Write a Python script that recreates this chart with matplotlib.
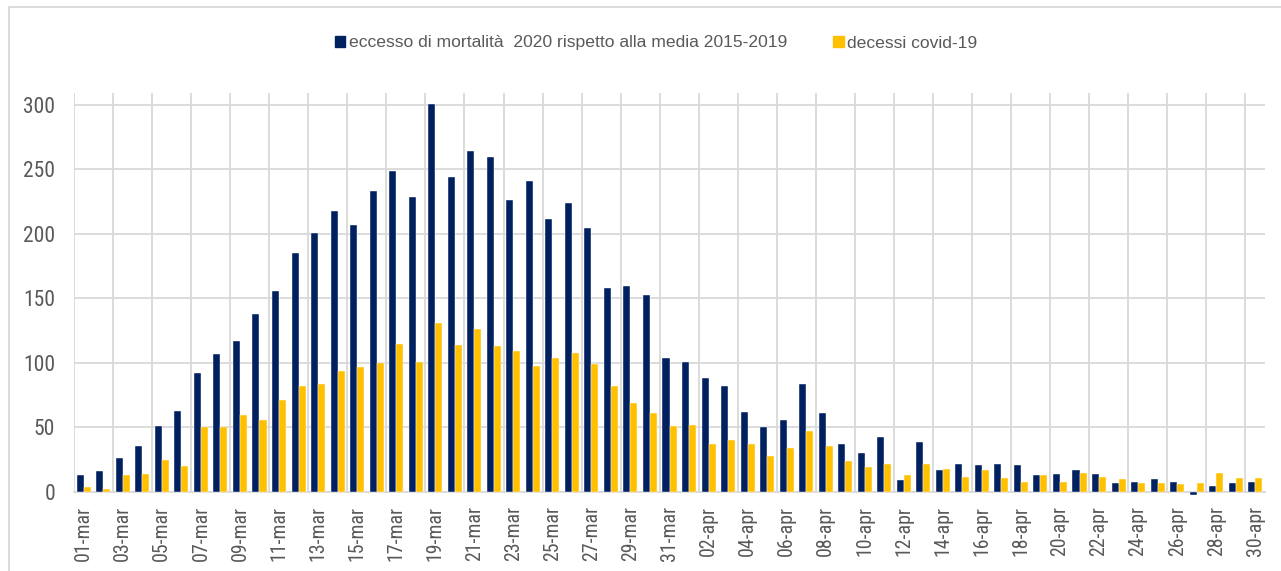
import numpy as np
import matplotlib
matplotlib.use("Agg")
import matplotlib.pyplot as plt
from matplotlib.patches import Patch, Rectangle

plt.rcParams['font.family'] = ['Liberation Sans', 'DejaVu Sans']
tick_font = ['Roboto Condensed', 'Liberation Sans', 'DejaVu Sans']

# Daily data, 1 March - 30 April 2020
days_mar = [f"{d:02d}-mar" for d in range(1, 32)]
days_apr = [f"{d:02d}-apr" for d in range(1, 31)]
days = days_mar + days_apr

excess = [13, 16, 26, 36, 51, 63, 92, 107, 117, 138,
          156, 185, 201, 218, 207, 233, 249, 229, 301, 244,
          264, 260, 226, 241, 212, 224, 205, 158, 160, 153,
          104, 101, 88, 82, 62, 50, 56, 84, 61, 37,
          30, 43, 9, 39, 17, 22, 21, 22, 21, 13,
          14, 17, 14, 7, 8, 10, 8, -2, 5, 7, 8]
covid = [4, 2, 13, 14, 25, 20, 50, 50, 60, 56,
         71, 82, 84, 94, 97, 100, 115, 101, 131, 114,
         126, 113, 109, 98, 104, 108, 99, 82, 69, 61,
         51, 52, 37, 40, 37, 28, 34, 47, 36, 24,
         19, 22, 13, 22, 18, 12, 17, 11, 8, 13,
         8, 15, 12, 10, 7, 7, 6, 7, 15, 11, 11]

label_excess = "eccesso di mortalità  2020 rispetto alla media 2015-2019"
label_covid = "decessi covid-19"

navy = "#002060"
gold = "#FFC000"
grey_txt = "#595959"
grey_grid = "#D9D9D9"

fig = plt.figure(figsize=(12.81, 5.71), dpi=100)
ax = fig.add_axes([74 / 1281, 1 - 492 / 571, (1265 - 74) / 1281, (492 - 93) / 571])

x = np.arange(len(days))
w = 0.36
ax.bar(x - w / 2, excess, width=w, color=navy, edgecolor="white", linewidth=0.3, clip_on=False, zorder=3)
ax.bar(x + w / 2, covid, width=w, color=gold, edgecolor="white", linewidth=0.3, clip_on=False, zorder=3)

ax.set_xlim(-0.5, len(days) - 0.5)
ax.set_ylim(0, 309.3)

# labels every second day, gridlines on category boundaries every two days
ax.set_xticks(x[::2])
ax.set_xticklabels(days[::2], rotation=90, fontsize=14.3, color=grey_txt, family=tick_font)
ax.set_xticks(np.arange(-0.5, len(days), 2), minor=True)
ax.set_yticks(np.arange(0, 301, 50))
for lbl in ax.get_yticklabels():
    lbl.set_family(tick_font)
ax.tick_params(axis="y", length=0, pad=13.5, labelsize=15.5, labelcolor=grey_txt)
ax.tick_params(axis="x", which="major", length=0, pad=10)
ax.tick_params(axis="x", which="minor", length=0)
ax.grid(axis="y", color=grey_grid, linewidth=1.3, zorder=0)
ax.grid(axis="x", which="minor", color=grey_grid, linewidth=1.3, zorder=0)
ax.set_axisbelow(True)

for s in ["top", "right", "left"]:
    ax.spines[s].set_visible(False)
ax.spines["bottom"].set_color(grey_grid)
ax.spines["bottom"].set_linewidth(1.3)

handles = [Patch(color=navy, label=label_excess), Patch(color=gold, label=label_covid)]
fig.legend(handles=handles, loc="center", bbox_to_anchor=(656 / 1281, 1 - 43 / 571), ncol=2,
           frameon=False, fontsize=12.6, labelcolor=grey_txt, handlelength=0.62, handleheight=0.62,
           handletextpad=0.2, columnspacing=2.6)

# chart area border
fig.patches.append(Rectangle((9 / 1281, -0.1), 1.2, 1 - 7 / 571 + 0.1, transform=fig.transFigure,
                             fill=False, edgecolor=grey_grid, linewidth=1.3))

fig.savefig("out.png", dpi=100)
